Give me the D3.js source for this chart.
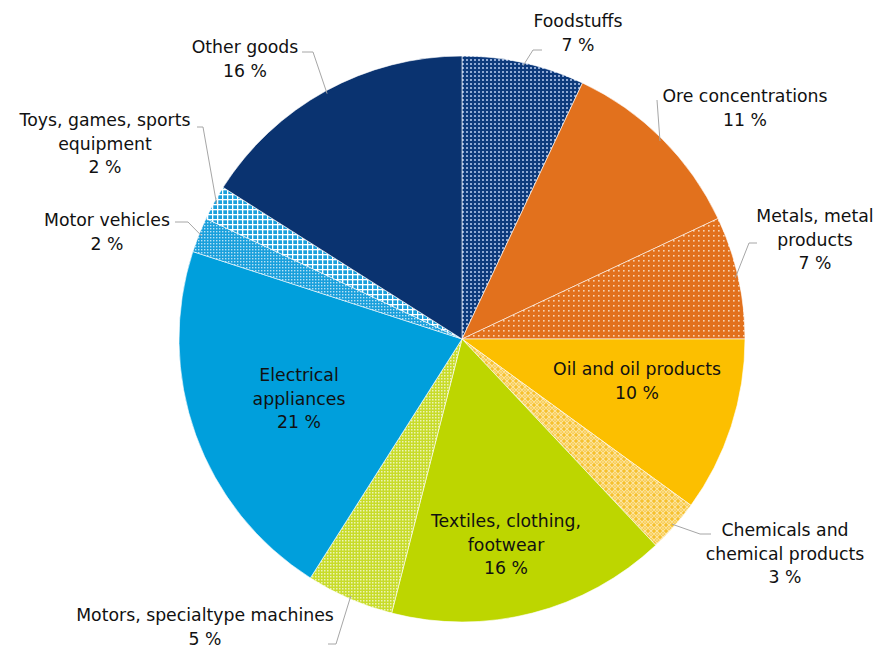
<!DOCTYPE html>
<html>
<head>
<meta charset="utf-8">
<script src="https://cdn.jsdelivr.net/npm/d3@7/dist/d3.min.js"></script>
<style>
  html, body { margin: 0; padding: 0; background: #ffffff; }
  svg { display: block; }
  text { font-family: "DejaVu Sans", Verdana, sans-serif; font-size: 17.3px; fill: #111111; }
</style>
</head>
<body>
<svg id="chart" width="891" height="648"></svg>
<script>
// Product groups, clockwise from twelve o'clock
const categories = [
  "Foodstuffs",
  "Ore concentrations",
  "Metals, metal products",
  "Oil and oil products",
  "Chemicals and chemical products",
  "Textiles, clothing, footwear",
  "Motors, specialtype machines",
  "Electrical appliances",
  "Motor vehicles",
  "Toys, games, sports equipment",
  "Other goods"
];
// Share of total, %
const shares = [7, 11, 7, 10, 3, 16, 5, 21, 2, 2, 16];

// Label text broken into lines
const labelLines = [
  ["Foodstuffs"],
  ["Ore concentrations"],
  ["Metals, metal", "products"],
  ["Oil and oil products"],
  ["Chemicals and", "chemical products"],
  ["Textiles, clothing,", "footwear"],
  ["Motors, specialtype machines"],
  ["Electrical", "appliances"],
  ["Motor vehicles"],
  ["Toys, games, sports", "equipment"],
  ["Other goods"]
];

// Fill keys: plain colours or pattern ids
const fills = [
  "url(#pFood)", "#e2711d", "url(#pMetal)", "#fcbf00", "url(#pChem)",
  "#bdd600", "url(#pMotors)", "#009fdc", "url(#pVehicles)", "url(#pToys)", "#0a3370"
];

// Label placement: text centre (first line baseline) and leader polyline
const labelLayout = [
  { x: 578, y: 27, leader: [[542, 50], [533, 50]] },
  { x: 745, y: 102, leader: [[657, 100], [657, 100]] },
  { x: 815, y: 222, leader: [[757, 243], [749, 243]] },
  { x: 637, y: 375, inside: true },
  { x: 785, y: 536, leader: [[711, 534], [700, 534]] },
  { x: 506, y: 527, inside: true },
  { x: 205, y: 621, leader: [[328, 644], [336, 644]] },
  { x: 299, y: 381, inside: true },
  { x: 107, y: 226, leader: [[175, 222], [188, 222]] },
  { x: 105, y: 126, leader: [[197, 127], [203, 127]] },
  { x: 245, y: 53, leader: [[302, 52], [313, 52]] }
];

const svg = d3.select("#chart");
const cx = 462, cy = 339, R = 283;
const lineH = 23.5;

// Hatch / dot patterns
const defs = svg.append("defs");
function pattern(id, size, base, draw) {
  const p = defs.append("pattern").attr("id", id)
    .attr("patternUnits", "userSpaceOnUse").attr("width", size).attr("height", size);
  p.append("rect").attr("width", size).attr("height", size).attr("fill", base);
  draw(p);
}
pattern("pFood", 4, "#0d3a7c", p => {
  p.append("rect").attr("x", 0).attr("y", 0).attr("width", 2).attr("height", 2)
    .attr("fill", "#8fa9d4");
});
pattern("pMetal", 5, "#e2711d", p => {
  p.append("rect").attr("x", 1).attr("y", 1).attr("width", 1.6).attr("height", 1.6)
    .attr("fill", "#f8d2b0");
});
pattern("pChem", 6, "#f6c12e", p => {
  p.append("path").attr("d", "M3,0 L6,3 L3,6 L0,3 Z").attr("fill", "none")
    .attr("stroke", "#fde4a0").attr("stroke-width", 1.2);
  p.append("circle").attr("cx", 3).attr("cy", 3).attr("r", 0.9).attr("fill", "#fde4a0");
});
pattern("pMotors", 3, "#c8dc2a", p => {
  p.append("rect").attr("x", 0).attr("y", 0).attr("width", 1.5).attr("height", 1.5)
    .attr("fill", "#ecf3b8");
});
pattern("pVehicles", 3, "#1aa0dc", p => {
  p.append("rect").attr("x", 0).attr("y", 0).attr("width", 1.4).attr("height", 1.4)
    .attr("fill", "#b8e2f5");
});
pattern("pToys", 5, "#ffffff", p => {
  p.append("rect").attr("x", 1.3).attr("y", 1.3).attr("width", 3.7).attr("height", 3.7)
    .attr("fill", "#1aa0dc");
});

const pie = d3.pie().sort(null).value(d => d)(shares);
const arc = d3.arc().innerRadius(0).outerRadius(R);

const g = svg.append("g").attr("transform", `translate(${cx},${cy})`);
g.selectAll("path.slice").data(pie).join("path")
  .attr("class", "slice")
  .attr("d", arc)
  .attr("fill", (d, i) => fills[i])
  .attr("stroke", "#ffffff")
  .attr("stroke-width", 0.6);

// Leader lines from the label to the slice edge
const leaders = svg.append("g");
pie.forEach((d, i) => {
  const L = labelLayout[i];
  if (L.inside) return;
  const mid = (d.startAngle + d.endAngle) / 2;
  const ex = cx + Math.sin(mid) * (R - 3);
  const ey = cy - Math.cos(mid) * (R - 3);
  const pts = L.leader.concat([[ex, ey]]);
  leaders.append("polyline")
    .attr("points", pts.map(p => p.join(",")).join(" "))
    .attr("fill", "none").attr("stroke", "#a6a6a6").attr("stroke-width", 1);
});

// Labels
const labels = svg.append("g");
pie.forEach((d, i) => {
  const L = labelLayout[i];
  const t = labels.append("text").attr("text-anchor", "middle");
  const lines = labelLines[i].concat([shares[i] + " %"]);
  lines.forEach((s, k) => {
    t.append("tspan").attr("x", L.x).attr("y", L.y + k * lineH).text(s);
  });
});
</script>
</body>
</html>
